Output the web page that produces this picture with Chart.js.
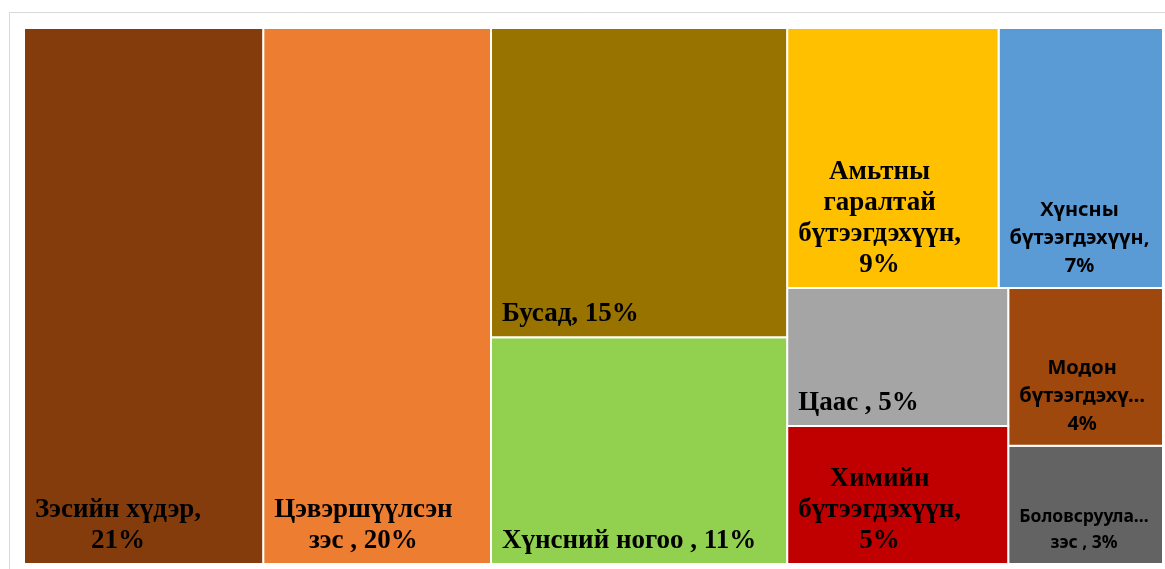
<!DOCTYPE html>
<html>
<head>
<meta charset="utf-8">
<script src="https://cdn.jsdelivr.net/npm/chart.js@4.4.1/dist/chart.umd.min.js"></script>
<style>
    body { margin: 0; background: #fff; }
    #wrap { width: 1165px; height: 569px; position: relative; }
</style>
</head>
<body>
<div id="wrap"><canvas id="chart"></canvas></div>
<script>
// export shares by product group, %
const categories = [
    'Зэсийн хүдэр', 'Цэвэршүүлсэн зэс ', 'Бусад', 'Хүнсний ногоо ',
    'Амьтны гаралтай бүтээгдэхүүн', 'Хүнсны бүтээгдэхүүн', 'Цаас ',
    'Химийн бүтээгдэхүүн', 'Модон бүтээгдэхүүн', 'Боловсруулаагүй зэс '
];
const shares = [21, 20, 15, 11, 9, 7, 5, 5, 4, 3];

const colors = [
    '#843C0C', '#ED7D31', '#997300', '#92D050', '#FFC000',
    '#5B9BD5', '#A5A5A5', '#C00000', '#9E480E', '#636363'
];
const labelKinds = ['serif', 'serif', 'serif', 'serif', 'serif', 'sans', 'serif', 'serif', 'sans', 'small'];
const labelFonts = {
    serif: { family: '"Liberation Serif", "Times New Roman", serif', size: 27, line: 31 },
    sans: { family: '"Noto Sans", "DejaVu Sans", sans-serif', size: 20, line: 28 },
    small: { family: '"Noto Sans", "DejaVu Sans", sans-serif', size: 17.5, line: 26 },
};

const padding = { left: 24, top: 28, right: 2, bottom: 5 };

// squarified layout (d3 style), ratio tuned to match Excel's treemap
const squarify = function (values, x0, y0, x1, y1, ratio) {
    const cells = [];
    let total = values.reduce((a, b) => a + b, 0);
    let i0 = 0;
    while (i0 < values.length) {
        const dx = x1 - x0, dy = y1 - y0;
        const alpha = Math.max(dy / dx, dx / dy) / (total * ratio);
        let sum = values[i0], minV = sum, maxV = sum;
        let beta = sum * sum * alpha;
        let best = Math.max(maxV / beta, beta / minV);
        let i1 = i0 + 1;
        for (; i1 < values.length; i1++) {
            const v = values[i1];
            const s = sum + v;
            beta = s * s * alpha;
            const worst = Math.max(Math.max(maxV, v) / beta, beta / Math.min(minV, v));
            if (worst > best) break;
            sum = s;
            best = worst;
            minV = Math.min(minV, v);
            maxV = Math.max(maxV, v);
        }
        if (dx < dy) {
            const h = dy * sum / total;
            let x = x0;
            for (let i = i0; i < i1; i++) {
                const w = dx * values[i] / sum;
                cells[i] = [x, y0, x + w, y0 + h];
                x += w;
            }
            y0 += h;
        } else {
            const w = dx * sum / total;
            let y = y0;
            for (let i = i0; i < i1; i++) {
                const h = dy * values[i] / sum;
                cells[i] = [x0, y, x0 + w, y + h];
                y += h;
            }
            x0 += w;
        }
        total -= sum;
        i0 = i1;
    }
    return cells;
};

const wrapEl = document.getElementById('wrap');
const areaW = wrapEl.clientWidth - padding.left - padding.right;
const areaH = wrapEl.clientHeight - padding.top - padding.bottom;
// cells in scale units (0..100 on both axes)
const cells = squarify(shares, 0, 0, areaW, areaH, 0.83).map((c) => [
    c[0] / areaW * 100, c[1] / areaH * 100, c[2] / areaW * 100, c[3] / areaH * 100
]);

const fitWord = (ctx, word, maxW) => {
    if (ctx.measureText(word).width <= maxW) return word;
    let w = word;
    while (w.length > 1 && ctx.measureText(w + '…').width > maxW) w = w.slice(0, -1);
    return w + '…';
};

const wrapText = (ctx, text, maxW) => {
    const words = text.split(' ').filter((w) => w.length);
    const lines = [];
    let cur = '';
    words.forEach((word) => {
        const test = cur ? cur + ' ' + word : word;
        if (!cur || ctx.measureText(test).width <= maxW) {
            cur = test;
        } else {
            lines.push(cur);
            cur = word;
        }
    });
    if (cur) lines.push(cur);
    return lines.map((l) => fitWord(ctx, l, maxW));
};

const framePlugin = {
    id: 'frame',
    beforeDraw(chart) {
        const ctx = chart.ctx;
        ctx.save();
        ctx.strokeStyle = '#D9D9D9';
        ctx.lineWidth = 1;
        ctx.beginPath();
        ctx.moveTo(9.5, chart.height);
        ctx.lineTo(9.5, 12.5);
        ctx.lineTo(chart.width, 12.5);
        ctx.stroke();
        ctx.restore();
    }
};

const labelPlugin = {
    id: 'cellLabels',
    afterDatasetsDraw(chart) {
        const { ctx, scales: { x, y } } = chart;
        ctx.save();
        cells.forEach((c, i) => {
            const left = x.getPixelForValue(c[0]);
            const right = x.getPixelForValue(c[2]);
            const bottom = y.getPixelForValue(c[3]);
            const f = labelFonts[labelKinds[i]];
            ctx.font = `bold ${f.size}px ${f.family}`;
            const w = right - left;
            const lines = wrapText(ctx, `${categories[i]}, ${shares[i]}%`, w - 22);
            const blockW = Math.max(...lines.map((l) => ctx.measureText(l).width));
            const blockLeft = left + Math.min(11, (w - blockW) / 2);
            ctx.fillStyle = '#000';
            ctx.textAlign = 'center';
            ctx.textBaseline = 'alphabetic';
            lines.forEach((line, k) => {
                const baseY = bottom - 16 - (lines.length - 1 - k) * f.line;
                ctx.fillText(line, blockLeft + blockW / 2, baseY);
            });
        });
        ctx.restore();
    }
};

new Chart(
    document.getElementById('chart'),
    {
        type: 'scatter',
        data: {
            datasets: cells.map((c, i) => ({
                label: categories[i],
                data: [
                    { x: c[0], y: c[1] }, { x: c[2], y: c[1] },
                    { x: c[2], y: c[3] }, { x: c[0], y: c[3] }, { x: c[0], y: c[1] }
                ],
                showLine: true,
                fill: 'shape',
                backgroundColor: colors[i],
                borderColor: '#FFFFFF',
                borderWidth: 2,
                pointRadius: 0,
                pointHoverRadius: 0,
                tension: 0,
                clip: false,
            }))
        },
        options: {
            responsive: true,
            maintainAspectRatio: false,
            animation: false,
            events: [],
            layout: { padding: padding },
            plugins: {
                legend: { display: false },
                tooltip: { enabled: false },
            },
            scales: {
                x: { type: 'linear', min: 0, max: 100, display: false },
                y: { type: 'linear', min: 0, max: 100, reverse: true, display: false },
            }
        },
        plugins: [framePlugin, labelPlugin],
    }
);
</script>
</body>
</html>
